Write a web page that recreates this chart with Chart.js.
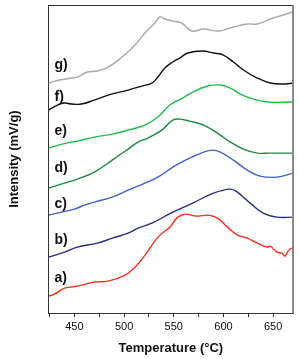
<!DOCTYPE html>
<html>
<head>
<meta charset="utf-8">
<script src="https://cdn.jsdelivr.net/npm/chart.js@4"></script>
<style>
  html, body { margin: 0; padding: 0; background: #fff; }
  #wrap { width: 299px; height: 359px; }
</style>
</head>
<body>
<div id="wrap"><canvas id="tpr"></canvas></div>
<script>
// temperatures (°C) and intensities (arbitrary, mV/g offset)
const tempA = [424, 430, 440, 453, 470, 484, 501, 511, 521, 534, 546, 553, 561, 573, 584, 594, 604, 614, 624, 634, 644, 647, 654, 659, 662, 665, 669, 670];
const valA  = [17, 19, 25, 27, 31, 32, 38, 46, 58, 76, 86, 95, 99, 97, 98, 95, 86, 78, 75, 70, 66, 67, 61, 60, 57, 62, 65, 64];

const tempB = [424, 440, 453, 473, 488, 504, 514, 528, 549, 569, 590, 607, 614, 627, 640, 654, 670];
const valB  = [56, 61, 66, 70, 75, 80, 85, 90, 101, 110, 120, 124, 121, 110, 100, 96, 96];

const tempC = [424, 437, 450, 460, 470, 488, 504, 521, 534, 549, 556, 566, 580, 589, 597, 610, 624, 637, 654, 670];
const valC  = [98, 101, 104, 108, 111, 116, 123, 130, 136, 146, 150, 155, 161, 163, 161, 153, 143, 137, 136, 140];

const tempD = [424, 440, 453, 470, 488, 504, 514, 524, 538, 549, 556, 566, 580, 594, 607, 620, 634, 647, 670];
const valD  = [125, 130, 134, 141, 153, 164, 171, 175, 183, 193, 194, 192, 188, 180, 171, 164, 160, 160, 160];

const tempE = [424, 442, 453, 470, 488, 504, 521, 534, 546, 559, 569, 584, 597, 607, 617, 630, 644, 670];
const valE  = [165, 170, 172, 176, 179, 183, 188, 196, 208, 215, 221, 227, 228, 225, 219, 214, 211, 211];

const tempF = [424, 433, 440, 447, 457, 470, 484, 504, 518, 528, 534, 541, 549, 556, 564, 579, 590, 600, 610, 620, 634, 647, 660, 670];
const valF  = [203, 208, 210, 209, 209, 213, 218, 223, 227, 230, 236, 245, 251, 255, 260, 262, 260, 258, 251, 243, 235, 230, 229, 230];

const tempG = [424, 435, 447, 453, 463, 473, 484, 498, 511, 521, 531, 536, 541, 549, 558, 568, 580, 595, 610, 624, 634, 650, 660, 670];
const valG  = [230, 233, 235, 236, 241, 242, 246, 256, 268, 280, 290, 296, 294, 292, 290, 282, 284, 282, 286, 289, 289, 295, 298, 301];

const seriesNames = ["a)", "b)", "c)", "d)", "e)", "f)", "g)"];
const seriesColors = ["#ff2a1a", "#2b2b85", "#3d62c8", "#1b8a3c", "#1fbf45", "#111111", "#a9a9a9"];
const labelY = [35, 73, 109, 145, 182, 216, 248];
const xTicks = [425, 450, 475, 500, 525, 550, 575, 600, 625, 650];

const temps = [tempA, tempB, tempC, tempD, tempE, tempF, tempG];
const vals = [valA, valB, valC, valD, valE, valF, valG];

const datasets = temps.map((t, i) => ({
  label: seriesNames[i],
  data: t.map((x, k) => ({ x: x, y: vals[i][k] })),
  borderColor: seriesColors[i],
  borderWidth: 1.4,
  pointRadius: 0,
  fill: false,
  tension: 0.4,
}));

// frame on top / right and the a)..g) tags
const framePlugin = {
  id: "frame",
  afterDraw(chart) {
    const { ctx, chartArea: a, scales } = chart;
    ctx.save();
    ctx.strokeStyle = "#333";
    ctx.lineWidth = 1;
    ctx.beginPath();
    ctx.moveTo(a.left, a.top + 0.5);
    ctx.lineTo(a.right, a.top + 0.5);
    ctx.stroke();
    ctx.strokeStyle = "#8a8a8a";
    ctx.lineWidth = 2;
    ctx.beginPath();
    ctx.moveTo(a.right, a.top);
    ctx.lineTo(a.right, a.bottom);
    ctx.stroke();

    ctx.fillStyle = "#111";
    ctx.font = "bold 14px Arial, 'Liberation Sans', sans-serif";
    ctx.textBaseline = "middle";
    seriesNames.forEach((n, i) => {
      ctx.fillText(n, scales.x.getPixelForValue(430), scales.y.getPixelForValue(labelY[i]));
    });
    ctx.restore();
  },
};

new Chart(document.getElementById("tpr"), {
  type: "line",
  data: { datasets },
  options: {
    responsive: true,
    maintainAspectRatio: false,
    animation: false,
    layout: { padding: { left: 3, right: 6, top: 5, bottom: 3 } },
    plugins: { legend: { display: false }, tooltip: { enabled: false } },
    scales: {
      x: {
        type: "linear",
        min: 424,
        max: 670,
        afterBuildTicks: (scale) => {
          scale.ticks = xTicks.map((v) => ({ value: v }));
        },
        ticks: {
          autoSkip: false,
          maxRotation: 0,
          color: "#111",
          padding: 3,
          font: { family: "Arial, 'Liberation Sans', sans-serif", size: 11 },
          callback: (v) => (v % 50 === 0 ? String(v) : ""),
        },
        grid: { drawOnChartArea: false, tickLength: 4, color: "#333" },
        border: { color: "#333", width: 1 },
        title: {
          display: true,
          text: "Temperature (°C)",
          color: "#111",
          font: { family: "Arial, 'Liberation Sans', sans-serif", size: 13, weight: "bold" },
          padding: { top: 4, bottom: 0 },
        },
      },
      y: {
        min: 0,
        max: 308,
        ticks: { display: false },
        grid: { display: false, drawTicks: false },
        border: { color: "#333", width: 1 },
        title: {
          display: true,
          text: "Intensity (mV/g)",
          color: "#111",
          font: { family: "Arial, 'Liberation Sans', sans-serif", size: 13, weight: "bold" },
          padding: { top: 4, bottom: 26 },
        },
      },
    },
  },
  plugins: [framePlugin],
});
</script>
</body>
</html>
